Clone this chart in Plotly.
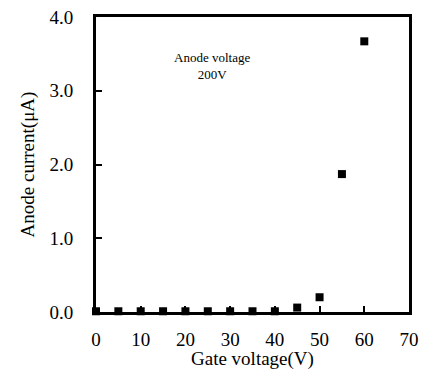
import plotly.graph_objects as go

gate_voltage = [0, 5, 10, 15, 20, 25, 30, 35, 40, 45, 50, 55, 60]
anode_current = [0.01, 0.01, 0.01, 0.01, 0.01, 0.01, 0.01, 0.01, 0.01, 0.06, 0.20, 1.87, 3.67]
x_ticks = [0, 10, 20, 30, 40, 50, 60, 70]
y_ticks = [0.0, 1.0, 2.0, 3.0, 4.0]
y_tick_labels = ["0.0", "1.0", "2.0", "3.0", "4.0"]

font = "Liberation Serif"

fig = go.Figure()
fig.add_trace(go.Scatter(
    x=gate_voltage, y=anode_current, mode="markers",
    marker=dict(symbol="square", size=8, color="black"),
    cliponaxis=False, showlegend=False,
))

fig.add_annotation(
    x=0.37, y=0.895, xref="paper", yref="paper",
    text="Anode voltage<br>200V", showarrow=False,
    font=dict(family=font, size=13, color="black"), align="center",
)

# x-axis title as annotation (placed below tick labels)
fig.add_annotation(
    x=0.5, y=-0.16, xref="paper", yref="paper", yanchor="middle",
    text="Gate voltage(V)", showarrow=False,
    font=dict(family=font, size=19, color="black"),
)

fig.update_layout(
    width=425, height=369,
    margin=dict(l=96, r=16, t=17, b=57, autoexpand=False),
    paper_bgcolor="white", plot_bgcolor="white",
    font=dict(family=font, color="black"),
    xaxis=dict(
        range=[0, 70], tickvals=x_ticks, ticks="inside", ticklen=6, tickwidth=2,
        tickcolor="black", showline=True, linewidth=3, linecolor="black",
        mirror=True, showgrid=False, zeroline=False, ticklabelstandoff=8,
        automargin=False,
        tickfont=dict(family=font, size=19),
    ),
    yaxis=dict(
        range=[0, 4.0], tickvals=y_ticks, ticktext=y_tick_labels, ticks="inside",
        ticklen=6, tickwidth=2, tickcolor="black", showline=True, linewidth=3,
        linecolor="black", mirror=True, showgrid=False, zeroline=False,
        ticklabelstandoff=16, automargin=False,
        tickfont=dict(family=font, size=19),
        title=dict(text="Anode current(μA)", font=dict(family=font, size=19), standoff=10),
    ),
)

fig.write_html("out.html")
